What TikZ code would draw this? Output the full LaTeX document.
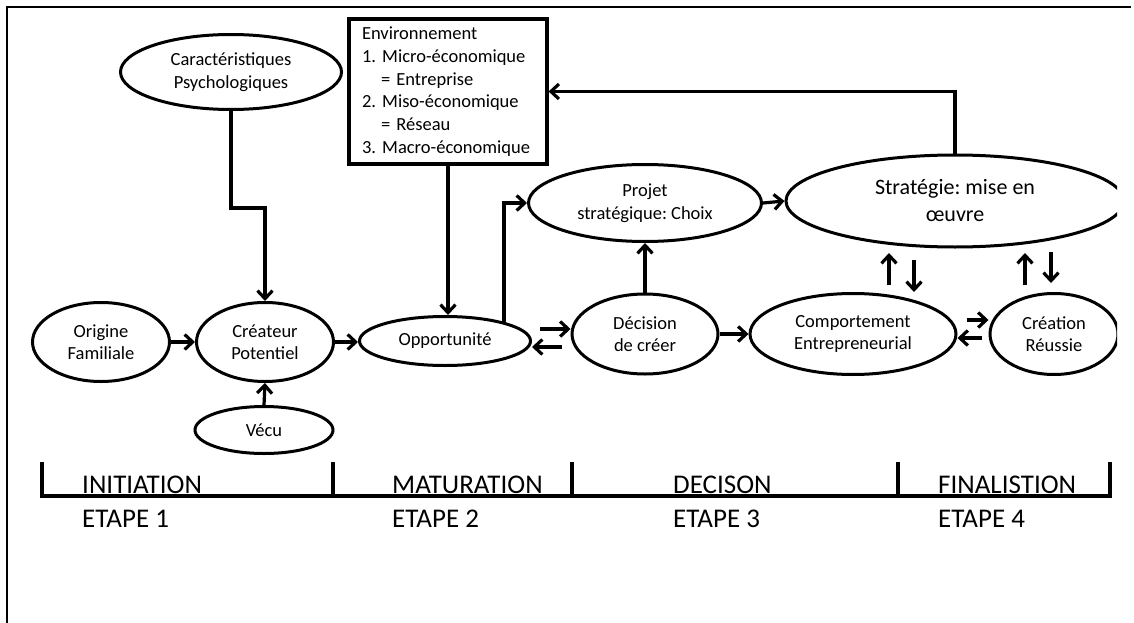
\documentclass[tikz,border=0pt]{standalone}
\usepackage{fontspec}
\setmainfont{Carlito}
\frenchspacing
\usetikzlibrary{arrows.meta,shapes.geometric,calc}
\pgfdeclarelayer{bg}
\pgfsetlayers{bg,main}
\begin{document}
\begin{tikzpicture}[x=1pt,y=-1pt,
  bubble/.style={ellipse,draw,line width=3pt,fill=white,inner sep=0pt,align=center,
    font=\fontsize{18.5}{22.5}\selectfont},
  link/.style={line width=3.2pt,-{Straight Barb[length=8pt,width=15pt]}},
  plain/.style={line width=3.2pt},
  stage/.style={anchor=base west,inner sep=0pt,font=\fontsize{27}{32}\selectfont}
]
\useasboundingbox (0,0) rectangle (1134,623);

% outer frame (top and left edges)
\coordinate (fbl) at (7,623);
\coordinate (ftl) at (7,7);
\coordinate (ftr) at (1131,7);
\draw[line width=1.8pt] (fbl) -- (ftl) -- (ftr);

% ---- nodes ----
\node[bubble,minimum width=221,minimum height=75] (carac) at (231,72) {Caractéristiques\\Psychologiques};
\node[bubble,minimum width=137,minimum height=79] (orig) at (101,342) {Origine\\Familiale};
\node[bubble,minimum width=137,minimum height=79] (crea) at (265,342) {Créateur\\Potentiel};
\node[bubble,minimum width=138,minimum height=47] (vecu) at (264,430) {Vécu};
\node[bubble,minimum width=171,minimum height=49] (opp) at (445,341) {Opportunité};
\node[bubble,minimum width=146,minimum height=80] (dec) at (645,334) {Décision\\de créer};
\node[bubble,minimum width=233,minimum height=77] (proj) at (645,203) {Projet\\stratégique: Choix};
\node[bubble,minimum width=206,minimum height=81] (comp) at (853,334) {Comportement\\Entrepreneurial};
\begin{scope}
  \clip (0,0) rectangle (1117,623);
  \node[bubble,minimum width=338,minimum height=92,font=\fontsize{22}{27}\selectfont] (strat) at (955,201) {Stratégie: mise en\\œuvre};
  \node[bubble,minimum width=128,minimum height=81] (reus) at (1054,334) {Création\\Réussie};
\end{scope}

\node[draw,line width=3.2pt,fill=white,minimum width=198,minimum height=145,
  text width=172,inner xsep=13,align=left,font=\fontsize{18.5}{22.7}\selectfont] (env) at (448,91.5)
  {Environnement\\1. Micro-économique\\\hspace*{19pt}= Entreprise\\2. Miso-économique\\\hspace*{19pt}= Réseau\\3. Macro-économique};

% ---- connectors ----
\coordinate (caracknee) at (231,208);
\coordinate (oppout) at (504,341);
\coordinate (u1s) at (889,285); \coordinate (u1e) at (889,253);
\coordinate (d1s) at (914,260); \coordinate (d1e) at (914,292);
\coordinate (u2s) at (1025,285); \coordinate (u2e) at (1025,253);
\coordinate (d2s) at (1051,252); \coordinate (d2e) at (1051,283);

\begin{pgfonlayer}{bg}
  \draw[link] (carac.south) -- (caracknee) -| (crea.north);
  \draw[link] (orig.east) -- (crea.west);
  \draw[link] (vecu.north) -- (crea.south);
  \draw[link] (crea.east) -- (crea.east -| opp.west);
  \draw[link] (env.south) -- (env.south |- opp.north);
  \draw[link] (oppout) |- (proj.west);
  \draw[link] (dec.north) -- (proj.south);
  \draw[link] (proj.east) -- (strat.west);
  \draw[link] (strat.north) |- (env.east);
  \draw[link] (dec.east) -- (comp.west);
  \draw[link,shorten <=8pt] (opp.east |- 0,329) -- (dec.west |- 0,329);
  \draw[link,shorten <=9pt] (dec.west |- 0,347) -- (opp.east |- 0,347);
  \draw[link,shorten <=9pt] (comp.east |- 0,320) -- (reus.west |- 0,320);
  \draw[link,shorten <=7pt] (reus.west |- 0,338) -- (comp.east |- 0,338);
  \draw[link] (u1s) -- (u1e);
  \draw[link] (d1s) -- (d1e);
  \draw[link] (u2s) -- (u2e);
  \draw[link] (d2s) -- (d2e);
\end{pgfonlayer}

% ---- stage timeline ----
\coordinate (t0) at (42,462);
\coordinate (b0) at (42,496);
\coordinate (b4) at (1110,496);
\coordinate (t4) at (1110,462);
\draw[plain] (t0) -- (b0) -- (b4) -- (t4);
\foreach \tx in {333,572,898}{
  \draw[plain] (\tx,462) -- (\tx,496);
}

\node[stage] (s1) at (82,493) {INITIATION};
\node[stage] (e1) at (82,527) {ETAPE 1};
\node[stage] (s2) at (392,493) {MATURATION};
\node[stage] (e2) at (392,527) {ETAPE 2};
\node[stage] (s3) at (673,493) {DECISON};
\node[stage] (e3) at (673,527) {ETAPE 3};
\node[stage] (s4) at (938,493) {FINALISTION};
\node[stage] (e4) at (938,527) {ETAPE 4};
\end{tikzpicture}
\end{document}
